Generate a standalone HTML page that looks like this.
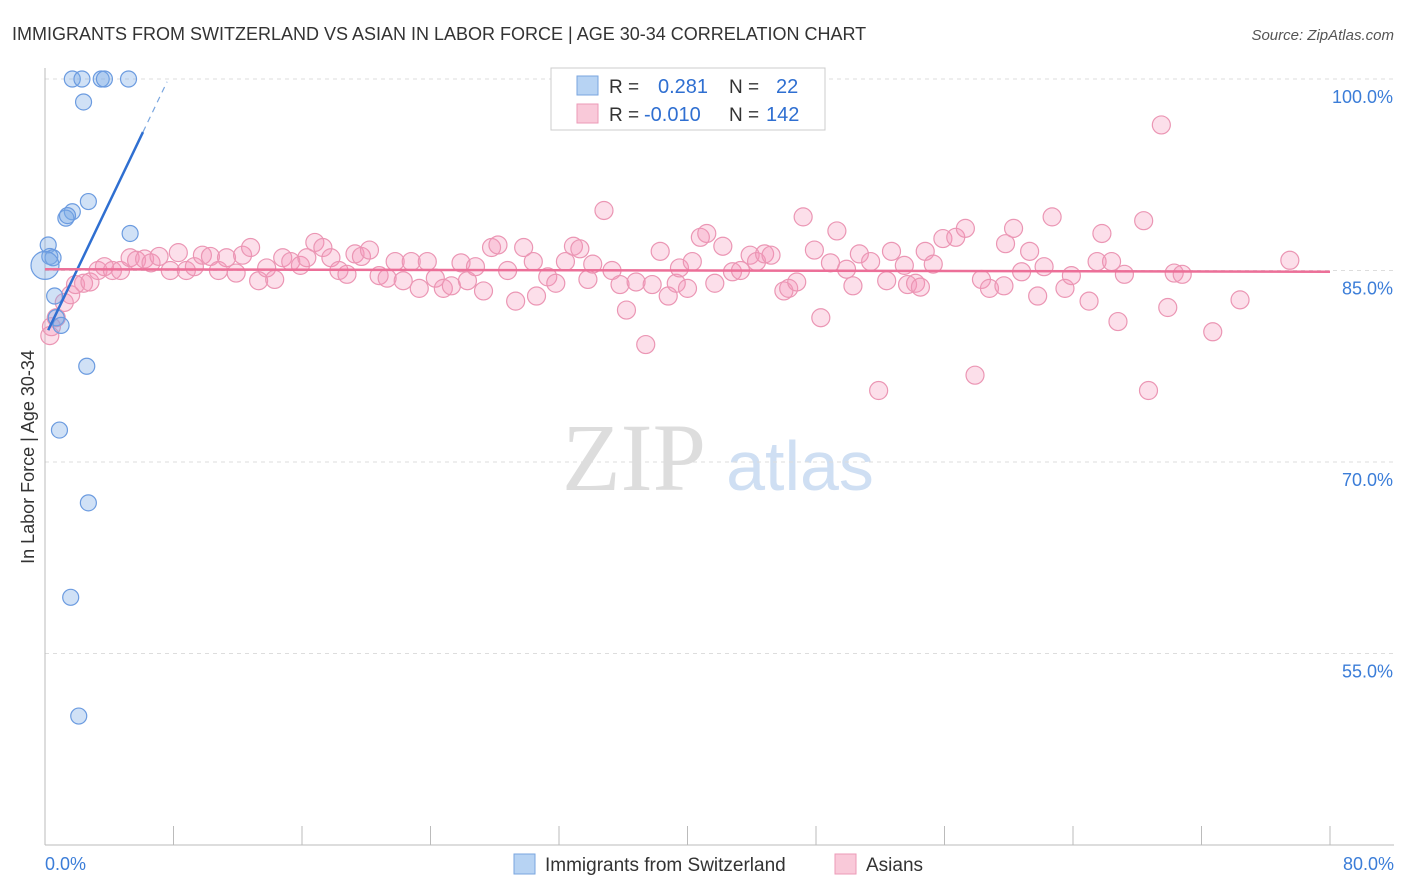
<!DOCTYPE html>
<html><head><meta charset="utf-8"><style>
body{margin:0;background:#fff;font-family:"Liberation Sans",sans-serif;}
#wrap{position:relative;width:1406px;height:892px;overflow:hidden}
</style></head><body><div id="wrap">
<svg id="svg" width="1406" height="892" xmlns="http://www.w3.org/2000/svg">
<text x="12" y="40" font-size="18" fill="#333">IMMIGRANTS FROM SWITZERLAND VS ASIAN IN LABOR FORCE | AGE 30-34 CORRELATION CHART</text>
<text x="1394" y="40" font-size="15" fill="#555" text-anchor="end" font-style="italic">Source: ZipAtlas.com</text>
<text x="34" y="457" font-size="18" fill="#333" text-anchor="middle" transform="rotate(-90 34 457)">In Labor Force | Age 30-34</text>
<g><text x="634" y="490" font-size="96" fill="#ddd" text-anchor="middle" font-family="Liberation Serif,serif">ZIP</text><text x="800" y="490" font-size="70" fill="#cfdff3" text-anchor="middle">atlas</text></g>
<g id="grid"></g><g id="axes"></g><g id="pts"></g><g id="lines"></g>
<g>
<rect x="551" y="68" width="274" height="62" fill="#fff" stroke="#ccc"/>
<rect x="577" y="76" width="21" height="19" fill="#b7d3f3" stroke="#7aa6df"/>
<rect x="577" y="104" width="21" height="19" fill="#f9c9d9" stroke="#ec9ab7"/>
<text x="609" y="93" font-size="19" fill="#333">R = </text><text x="658" y="93" font-size="20" fill="#2f6fd1">0.281</text>
<text x="729" y="93" font-size="19" fill="#333">N = </text><text x="776" y="93" font-size="20" fill="#2f6fd1">22</text>
<text x="609" y="121" font-size="19" fill="#333">R = </text><text x="644" y="121" font-size="20" fill="#2f6fd1">-0.010</text>
<text x="729" y="121" font-size="19" fill="#333">N = </text><text x="766" y="121" font-size="20" fill="#2f6fd1">142</text>
</g>
<g>
<rect x="514" y="854" width="21" height="20" fill="#b7d3f3" stroke="#7aa6df"/>
<text x="545" y="871" font-size="19" fill="#333">Immigrants from Switzerland</text>
<rect x="835" y="854" width="21" height="20" fill="#f9c9d9" stroke="#ec9ab7"/>
<text x="866" y="871" font-size="19" fill="#333">Asians</text>
</g>
</svg></div>
<script>
const xTicks=[0,8,16,24,32,40,48,56,64,72,80];
const yTicks=[55,70,85,100];
const yTickLabels=["55.0%","70.0%","85.0%","100.0%"];
const xEndLabels=["0.0%","80.0%"];
const blueX=[1.7,2.3,3.5,3.7,5.2,2.4,2.7,1.7,1.3,1.4,5.3,0.2,0.3,0.5,0.6,0.7,1.0,2.6,0.9,2.7,1.6,2.1,0.0];
const blueY=[100,100,100,100,100,98.2,90.4,89.6,89.1,89.3,87.9,87.0,86.1,86.0,83.0,81.3,80.7,77.5,72.5,66.8,59.4,50.1,85.4];
const pinkX=[0.3,0.4,0.7,1.2,1.6,1.9,2.4,2.8,3.3,3.7,4.2,4.7,5.3,5.7,6.2,6.6,7.1,7.8,8.3,8.8,9.3,9.8,10.3,10.8,11.3,11.9,12.3,12.8,13.3,13.8,14.3,14.8,15.3,15.9,16.3,16.8,17.3,17.8,18.3,18.8,19.3,19.7,20.2,20.8,21.3,21.8,22.3,22.8,23.3,23.8,24.3,24.8,25.3,25.9,26.3,26.8,27.3,27.8,28.2,28.8,29.3,29.8,30.4,30.6,31.3,31.8,32.4,32.9,33.3,33.8,34.1,34.8,35.3,35.8,36.2,36.8,37.4,37.8,38.3,38.8,39.3,39.5,40.0,40.3,40.8,41.2,41.7,42.2,42.8,43.3,43.9,44.3,44.8,45.2,46.0,46.3,46.8,47.2,47.9,48.3,48.9,49.3,49.9,50.3,50.7,51.4,51.9,52.4,52.7,53.5,53.7,54.2,54.5,54.8,55.3,55.9,56.7,57.3,57.9,58.3,58.8,59.7,59.8,60.3,60.8,61.3,61.8,62.2,62.7,63.5,63.9,65.0,65.5,65.8,66.4,66.8,67.2,68.4,68.7,69.5,69.9,70.3,70.8,72.7,74.4,77.5];
const pinkY=[79.9,80.6,81.3,82.5,83.1,83.9,84.0,84.1,85.0,85.3,85.0,85.0,86.0,85.8,85.9,85.6,86.1,85.0,86.4,85.0,85.3,86.2,86.1,85.0,86.0,84.8,86.2,86.8,84.2,85.2,84.3,86.0,85.7,85.4,86.0,87.2,86.8,86.0,85.0,84.7,86.3,86.1,86.6,84.6,84.4,85.7,84.2,85.7,83.6,85.7,84.4,83.6,83.8,85.6,84.2,85.3,83.4,86.8,87.0,85.0,82.6,86.8,85.7,83.0,84.5,84.0,85.7,86.9,86.7,84.3,85.5,89.7,85.0,83.9,81.9,84.1,79.2,83.9,86.5,83.0,84.0,85.2,83.6,85.7,87.6,87.9,84.0,86.9,84.9,85.0,86.2,85.7,86.3,86.2,83.4,83.6,84.1,89.2,86.6,81.3,85.6,88.1,85.1,83.8,86.3,85.7,75.6,84.2,86.5,85.4,83.9,84.0,83.7,86.5,85.5,87.5,87.6,88.3,76.8,84.3,83.6,83.8,87.1,88.3,84.9,86.5,83.0,85.3,89.2,83.6,84.6,82.6,85.7,87.9,85.7,81.0,84.7,88.9,75.6,96.4,82.1,84.8,84.7,80.2,82.7,85.8];
const blueLine=[79.8,2.63]; // intercept, slope
const pinkLine=[85.1,-0.0025];
const X0=45,X1=1330,Y100=79,PX15=191.5,YB=845;
const sx=v=>X0+(v/80)*(X1-X0);
const sy=v=>Y100+(100-v)/15*PX15;
const NS="http://www.w3.org/2000/svg";
function mk(tag,attrs,parent){const e=document.createElementNS(NS,tag);for(const k in attrs)e.setAttribute(k,attrs[k]);parent.appendChild(e);return e;}
const grid=document.getElementById('grid'),axes=document.getElementById('axes'),pts=document.getElementById('pts'),lines=document.getElementById('lines');
yTicks.forEach((t,i)=>{
 const g=mk('line',{x1:X0,x2:1394,y1:sy(t),y2:sy(t),stroke:'#ddd','stroke-dasharray':'4 4'},grid);
 
 
 const l=mk('text',{x:1393,y:sy(t)+24,'font-size':18,fill:'#3b7dd8','text-anchor':'end'},axes);
 l.textContent=yTickLabels[i];
 
 
});
const ax=mk('line',{x1:X0,x2:X0,y1:68,y2:YB,stroke:'#bbb'},axes);


const bx=mk('line',{x1:X0,x2:1394,y1:YB,y2:YB,stroke:'#bbb'},axes);


xTicks.forEach(t=>{
 const tk=mk('line',{x1:sx(t),x2:sx(t),y1:826,y2:YB,stroke:'#bbb'},axes);
 
 
});
const xl0=mk('text',{x:45,y:870,'font-size':18,fill:'#3b7dd8'},axes);xl0.textContent=xEndLabels[0];


const xl1=mk('text',{x:1394,y:870,'font-size':18,fill:'#3b7dd8','text-anchor':'end'},axes);xl1.textContent=xEndLabels[1];


pinkX.forEach((v,i)=>{
 const c=mk('circle',{cx:sx(v),cy:sy(pinkY[i]),r:9,fill:'rgba(244,150,185,0.3)',stroke:'#eb96b4','stroke-width':1.2},pts);
 
 
});
blueX.forEach((v,i)=>{
 const c=mk('circle',{cx:sx(v),cy:sy(blueY[i]),r:(i==blueX.length-1?14:8),fill:'rgba(120,170,230,0.35)',stroke:'#6b9be0','stroke-width':1.2},pts);
 
 
});
const bf=x=>blueLine[0]+blueLine[1]*x;
const b1=mk('line',{x1:sx(0.2),y1:sy(bf(0.2)),x2:sx(6.1),y2:sy(bf(6.1)),stroke:'#2f6fd1','stroke-width':2.5},lines);


const b2=mk('line',{x1:sx(6.1),y1:sy(bf(6.1)),x2:sx(7.6),y2:sy(bf(7.6)),stroke:'#7aa6df','stroke-width':1.2,'stroke-dasharray':'6 5'},lines);


const pf=x=>pinkLine[0]+pinkLine[1]*x;
const p1=mk('line',{x1:sx(0),y1:sy(pf(0)),x2:sx(80),y2:sy(pf(80)),stroke:'#ec6f98','stroke-width':2.5},lines);


</script></body></html>
